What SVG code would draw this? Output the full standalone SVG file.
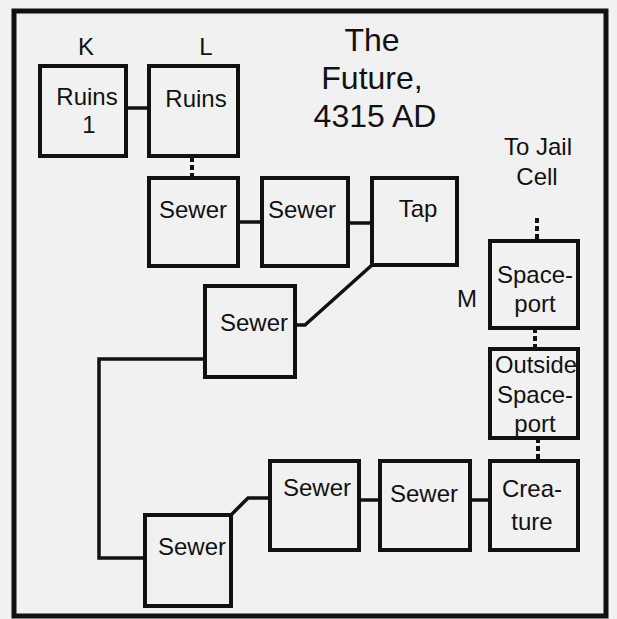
<svg xmlns="http://www.w3.org/2000/svg" width="617" height="619" viewBox="0 0 617 619">
<style>
.box{fill:none;stroke:#111;stroke-width:4}
.c{fill:none;stroke:#111;stroke-width:3.5;stroke-linejoin:miter}
.d{fill:none;stroke:#111;stroke-width:4;stroke-dasharray:5 3}
text{font-family:"Liberation Sans",Arial,sans-serif;fill:#111;text-anchor:middle}
.n{font-size:24px}
.t{font-size:32px}
.s{font-size:24px}
</style>
<rect x="0" y="0" width="617" height="619" fill="#f1f1f1"/>
<rect id="frame" x="14" y="11" width="592" height="605" fill="none" stroke="#111" stroke-width="5"/>
<g id="title">
<text class="t" x="372" y="51">The</text>
<text class="t" x="372" y="89">Future,</text>
<text class="t" x="375" y="127">4315 AD</text>
</g>
<g id="labels">
<text class="n" x="86" y="55">K</text>
<text class="n" x="206" y="55">L</text>
<text class="n" x="467" y="307">M</text>
<text class="s" x="538" y="155">To Jail</text>
<text class="s" x="537" y="185">Cell</text>
</g>
<g id="connectors">
<path class="c" d="M126 108H149"/>
<path class="d" d="M192 157V177"/>
<path class="c" d="M238 222H262"/>
<path class="c" d="M348 223H372"/>
<path class="c" d="M372 265L305 325H295"/>
<path class="c" d="M205 359H99V558H145"/>
<path class="c" d="M231 515L248 498H270"/>
<path class="c" d="M359 500H380"/>
<path class="c" d="M470 500H490"/>
<path class="d" d="M538 438V461"/>
<path class="d" d="M535 328V349"/>
<path class="d" d="M537 218V241"/>
</g>
<g id="ruins1"><rect class="box" x="40" y="66" width="86" height="90"/><text class="n" x="87" y="105">Ruins</text><text class="n" x="89" y="133">1</text></g>
<g id="ruins"><rect class="box" x="149" y="66" width="89" height="90"/><text class="n" x="196" y="107">Ruins</text></g>
<g id="sewer1"><rect class="box" x="149" y="178" width="89" height="88"/><text class="n" x="193" y="218">Sewer</text></g>
<g id="sewer2"><rect class="box" x="262" y="178" width="86" height="88"/><text class="n" x="302" y="218">Sewer</text></g>
<g id="tap"><rect class="box" x="372" y="178" width="85" height="87"/><text class="n" x="418" y="217">Tap</text></g>
<g id="sewer3"><rect class="box" x="205" y="286" width="90" height="91"/><text class="n" x="254" y="331">Sewer</text></g>
<g id="spaceport"><rect class="box" x="490" y="241" width="88" height="87"/><text class="n" x="535" y="283">Space-</text><text class="n" x="535" y="312">port</text></g>
<g id="outside"><rect class="box" x="490" y="349" width="88" height="89"/><text class="n" x="536" y="373" textLength="82" lengthAdjust="spacingAndGlyphs">Outside</text><text class="n" x="535" y="403">Space-</text><text class="n" x="535" y="432">port</text></g>
<g id="sewer4"><rect class="box" x="270" y="461" width="89" height="89"/><text class="n" x="317" y="496">Sewer</text></g>
<g id="sewer6"><rect class="box" x="380" y="461" width="90" height="89"/><text class="n" x="424" y="502">Sewer</text></g>
<g id="creature"><rect class="box" x="490" y="461" width="88" height="89"/><text class="n" x="532" y="497">Crea-</text><text class="n" x="532" y="530">ture</text></g>
<g id="sewer5"><rect class="box" x="145" y="515" width="86" height="91"/><text class="n" x="192" y="555">Sewer</text></g>
</svg>
